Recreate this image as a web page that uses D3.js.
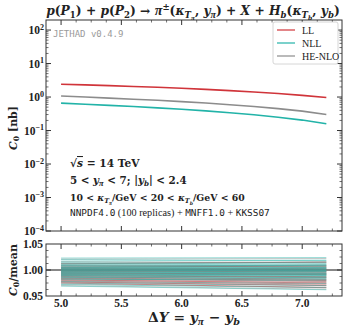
<!DOCTYPE html>
<html lang="en">
<head>
<meta charset="UTF-8">
<script src="https://cdn.jsdelivr.net/npm/d3@7"></script>
<style>
  body { margin: 0; background: #fff; }
  svg text { font-family: "Liberation Serif", "DejaVu Serif", serif; fill: #222; }
  .math { font-family: "DejaVu Serif", "Liberation Serif", serif; }
  .mono { font-family: "DejaVu Sans Mono", "Liberation Mono", monospace; }
  .lib { font-family: "Liberation Serif", serif; }
</style>
</head>
<body>
<svg id="chart" width="349" height="328"></svg>
<script>
// ---- data ----
const deltaY = [5.0, 5.2, 5.4, 5.6, 5.8, 6.0, 6.2, 6.4, 6.6, 6.8, 7.0, 7.2];
const c0LL    = [2.40, 2.30, 2.19, 2.07, 1.95, 1.82, 1.69, 1.55, 1.41, 1.27, 1.12, 0.97];
const c0NLL   = [0.66, 0.61, 0.565, 0.52, 0.475, 0.43, 0.385, 0.34, 0.295, 0.25, 0.205, 0.16];
const c0HENLO = [1.07, 1.00, 0.93, 0.86, 0.80, 0.73, 0.66, 0.59, 0.52, 0.45, 0.38, 0.30];

// replica / mean ratios at the first and last ΔY point
const repX = [5.0, 7.2];
const llRepStart = [1.012, 1.008, 1.005, 1.003, 1.001, 0.999, 0.997, 0.995, 0.993, 0.991, 0.989, 0.987, 0.985, 0.983, 0.981, 0.979, 0.977, 0.975];
const llRepEnd   = [1.015, 1.006, 1.008, 1.001, 1.003, 0.996, 0.998, 0.991, 0.993, 0.987, 0.986, 0.982, 0.980, 0.978, 0.975, 0.973, 0.970, 0.966];
const nllRepStart = [1.023, 1.020, 1.017, 1.014, 1.012, 1.010, 1.009, 1.008, 1.006, 1.005, 1.004, 1.003, 1.002, 1.001, 1.000, 0.999, 0.998, 0.997, 0.996, 0.995, 0.994, 0.993, 0.992, 0.991, 0.990, 0.989, 0.988, 0.986, 0.985, 0.983, 0.981, 0.978, 0.975, 0.972, 0.969];
const nllRepEnd   = [1.024, 1.018, 1.019, 1.011, 1.015, 1.008, 1.012, 1.005, 1.009, 1.003, 1.006, 1.001, 1.004, 0.999, 1.002, 0.997, 1.000, 0.994, 0.998, 0.992, 0.996, 0.990, 0.993, 0.988, 0.991, 0.985, 0.989, 0.982, 0.986, 0.979, 0.983, 0.974, 0.970, 0.966, 0.962];
const heRepStart = [1.021, 1.016, 1.013, 1.010, 1.007, 1.005, 1.003, 1.001, 0.999, 0.997, 0.995, 0.993, 0.991, 0.989, 0.987, 0.984, 0.981, 0.977, 0.973, 0.970];
const heRepEnd   = [1.022, 1.014, 1.016, 1.008, 1.010, 1.002, 1.005, 0.998, 1.001, 0.994, 0.996, 0.990, 0.992, 0.986, 0.983, 0.980, 0.976, 0.971, 0.967, 0.963];

const xTicks = [5.0, 5.5, 6.0, 6.5, 7.0];
const yMainTicks = [-4, -3, -2, -1, 0, 1, 2];
const yRatioTicks = [0.95, 1.00, 1.05];

const series = [
  { name: "LL",     color: "#d0343a", values: c0LL,    start: llRepStart,  end: llRepEnd },
  { name: "NLL",    color: "#22b3a8", values: c0NLL,   start: nllRepStart, end: nllRepEnd },
  { name: "HE-NLO", color: "#8c8c8c", values: c0HENLO, start: heRepStart,  end: heRepEnd }
];

// ---- layout ----
const left = 46, right = 342;
const mainTop = 20, mainBottom = 231;
const ratTop = 244, ratBottom = 296;

const svg = d3.select("#chart");

const x = d3.scaleLinear().domain([4.875, 7.33]).range([left, right]);
const yMain = d3.scaleLog().domain([1e-4, Math.pow(10, 2.3)]).range([mainBottom, mainTop]);
const yRat = d3.scaleLinear().domain([0.95, 1.05]).range([ratBottom, ratTop]);

// rich text helper: parts = [text, flags] ; flags: i (italic), sub, ss (sub-sub), sup, mono, n (normal weight), lib, ov (overline)
// if fitW is given the font size is rescaled so the text is that wide
function rich(sel, px, py, parts, size, anchor, weight, fitW, cls) {
  const build = s => {
    const t = sel.append("text").attr("x", px).attr("y", py)
      .attr("font-size", s).attr("font-weight", weight || "bold")
      .attr("text-anchor", anchor || "start");
    if (cls) t.attr("class", cls);
    let cur = 0;
    parts.forEach(([txt, f = ""]) => {
      const fl = f.split(" ");
      let off = 0, sz = s;
      if (fl.includes("ss")) { off = s * 0.42; sz = s * 0.5; }
      else if (fl.includes("sub")) { off = s * 0.22; sz = s * 0.7; }
      else if (fl.includes("sup")) { off = -s * 0.38; sz = s * 0.7; }
      if (fl.includes("mono")) sz = sz * 0.92;
      if (fl.includes("lib")) sz = sz * 1.15;
      const sp = t.append("tspan").text(txt).attr("font-size", sz).attr("dy", off - cur);
      cur = off;
      if (fl.includes("i")) sp.attr("font-style", "italic");
      if (fl.includes("mono")) sp.attr("class", "mono");
      if (fl.includes("lib")) sp.attr("class", "lib");
      if (fl.includes("ov")) sp.style("text-decoration", "overline");
      if (fl.includes("n")) sp.attr("font-weight", "normal");
    });
    return t;
  };
  let t = build(size);
  if (fitW) {
    const w = t.node().getBBox().width;
    t.remove();
    t = build(size * fitW / w);
  }
  return t;
}

// ---- main panel ----
const gMain = svg.append("g");
gMain.append("rect").attr("x", left).attr("y", mainTop)
  .attr("width", right - left).attr("height", mainBottom - mainTop)
  .attr("fill", "none").attr("stroke", "#333").attr("stroke-width", 1);

const line = d3.line().x((d, i) => x(deltaY[i])).y(d => yMain(d));
series.forEach(s => {
  gMain.append("path").datum(s.values).attr("d", line)
    .attr("fill", "none").attr("stroke", s.color).attr("stroke-width", 1.6);
});

function yTick(g, yy, len, w) {
  g.append("line").attr("x1", left).attr("x2", left + len).attr("y1", yy).attr("y2", yy).attr("stroke", "#333").attr("stroke-width", w);
  g.append("line").attr("x1", right).attr("x2", right - len).attr("y1", yy).attr("y2", yy).attr("stroke", "#333").attr("stroke-width", w);
}

// main y ticks (log, in-pointing, both sides)
yMainTicks.forEach(e => {
  const yy = yMain(Math.pow(10, e));
  yTick(gMain, yy, 5, 1);
  rich(gMain, left - 2, yy + 4, [["10"], [e < 0 ? "\u2212" + (-e) : String(e), "sup"]], 11.5, "end");
  for (let m = 2; m <= 9; m++) {
    const v = m * Math.pow(10, e);
    if (v < yMain.domain()[1]) yTick(gMain, yMain(v), 2.5, 0.7);
  }
});

// x ticks on both panels
function xTickMarks(g, top, bottom) {
  d3.range(4.875, 7.34, 0.125).forEach(v => {
    const major = xTicks.some(t => Math.abs(t - v) < 1e-6);
    const len = major ? 5 : 2.5;
    const xx = x(v);
    if (xx <= left + 0.5 || xx >= right - 0.5) return;
    g.append("line").attr("x1", xx).attr("x2", xx).attr("y1", bottom).attr("y2", bottom - len).attr("stroke", "#333").attr("stroke-width", major ? 1 : 0.7);
    g.append("line").attr("x1", xx).attr("x2", xx).attr("y1", top).attr("y2", top + len).attr("stroke", "#333").attr("stroke-width", major ? 1 : 0.7);
  });
}
xTickMarks(gMain, mainTop, mainBottom);

// JETHAD tag
gMain.append("text").attr("class", "mono").attr("x", 53).attr("y", 37)
  .attr("font-size", 9).style("fill", "#9a9a9a").text("JETHAD v0.4.9");

// legend
const lg = gMain.append("g");
lg.append("rect").attr("x", 273).attr("y", 22).attr("width", 65).attr("height", 42).attr("rx", 2)
  .attr("fill", "#fff").attr("stroke", "#ccc").attr("stroke-width", 0.8);
series.forEach((s, i) => {
  const ly = 30 + i * 13;
  lg.append("line").attr("x1", 277).attr("x2", 295).attr("y1", ly).attr("y2", ly)
    .attr("stroke", s.color).attr("stroke-width", 1.2);
  lg.append("text").attr("x", 302).attr("y", ly + 3.5).attr("font-size", 10).text(s.name);
});

// title
const PI = ["\u03c0", "i lib"];
rich(svg, 193, 15, [
  ["p", "i"], ["("], ["P", "i"], ["1", "sub"], [") + "], ["p", "i"], ["("], ["P", "i"], ["2", "sub"], [") \u2192 "],
  PI, ["\u00b1", "sup"], ["("], ["\u03ba", "i"], ["T", "sub i"], ["\u03c0", "ss i lib"], [", "], ["y", "i"], ["\u03c0", "sub i lib"],
  [") + "], ["X", "i"], [" + "], ["H", "i"], ["b", "sub i"], ["("], ["\u03ba", "i"], ["T", "sub i"], ["b", "ss i"], [", "],
  ["y", "i"], ["b", "sub i"], [")"]
], 13, "middle", "bold", 294, "math");

// info text
rich(gMain, 70, 167, [["\u221a"], ["s", "i ov"], [" = 14 TeV"]], 11, "start", "bold", 70, "math");
rich(gMain, 70, 184, [["5 < "], ["y", "i"], ["\u03c0", "sub i lib"], [" < 7;  |"], ["y", "i"], ["b", "sub i"], ["| < 2.4"]], 11, "start", "bold", 117, "math");
rich(gMain, 70, 201, [["10 < "], ["\u03ba", "i"], ["T", "sub i"], ["\u03c0", "ss i lib"], ["/GeV < 20 < "], ["\u03ba", "i"], ["T", "sub i"], ["b", "ss i"], ["/GeV < 60"]], 11, "start", "bold", 175, "math");
rich(gMain, 70, 216, [["NNPDF4.0", "mono n"], [" (100 replicas) + ", "n"], ["MNFF1.0", "mono n"], [" + ", "n"], ["KKSS07", "mono n"]], 8.6, "start", "normal", 200);

// y label main
rich(svg, 0, 0, [["C", "i"], ["0", "sub"], [" [nb]"]], 14, "middle", "bold", 44, "math")
  .attr("transform", "translate(17,128) rotate(-90)");

// ---- ratio panel ----
const gRat = svg.append("g");
gRat.append("line").attr("x1", left).attr("x2", right).attr("y1", yRat(1)).attr("y2", yRat(1))
  .attr("stroke", "#111").attr("stroke-width", 1);

const repLine = d3.line().x((d, i) => x(repX[i])).y(d => yRat(d));
const drawOrder = [series[2], series[0], series[1]];
const opac = { "LL": 0.55, "NLL": 0.45, "HE-NLO": 0.5 };
drawOrder.forEach(s => {
  s.start.forEach((v, k) => {
    gRat.append("path").datum([v, s.end[k]]).attr("d", repLine)
      .attr("fill", "none").attr("stroke", s.color).attr("stroke-width", 1)
      .attr("stroke-opacity", opac[s.name]);
  });
});

gRat.append("rect").attr("x", left).attr("y", ratTop)
  .attr("width", right - left).attr("height", ratBottom - ratTop)
  .attr("fill", "none").attr("stroke", "#333").attr("stroke-width", 1);

d3.range(0.95, 1.0501, 0.0125).forEach(v => {
  const major = yRatioTicks.some(t => Math.abs(t - v) < 1e-6);
  const yy = yRat(v);
  if (yy >= ratBottom - 0.5 || yy <= ratTop + 0.5) return;
  yTick(gRat, yy, major ? 5 : 2.5, major ? 1 : 0.7);
});
yRatioTicks.forEach(v => {
  gRat.append("text").attr("x", left - 3).attr("y", yRat(v) + 4).attr("text-anchor", "end")
    .attr("font-size", 11.5).attr("font-weight", "bold").text(v.toFixed(2));
});
xTickMarks(gRat, ratTop, ratBottom);
xTicks.forEach(v => {
  gRat.append("text").attr("x", x(v)).attr("y", 307).attr("text-anchor", "middle")
    .attr("font-size", 11.5).attr("font-weight", "bold").text(v.toFixed(1));
});

// ratio y label
rich(svg, 0, 0, [["C", "i"], ["0", "sub"], ["/mean"]], 14, "middle", "bold", 52, "math")
  .attr("transform", "translate(17,270) rotate(-90)");

// x label
rich(svg, 194, 322, [["\u0394"], ["Y", "i"], [" = "], ["y", "i"], ["\u03c0", "sub i lib"], [" \u2212 "], ["y", "i"], ["b", "sub i"]], 14, "middle", "bold", 92, "math");
</script>
</body>
</html>
